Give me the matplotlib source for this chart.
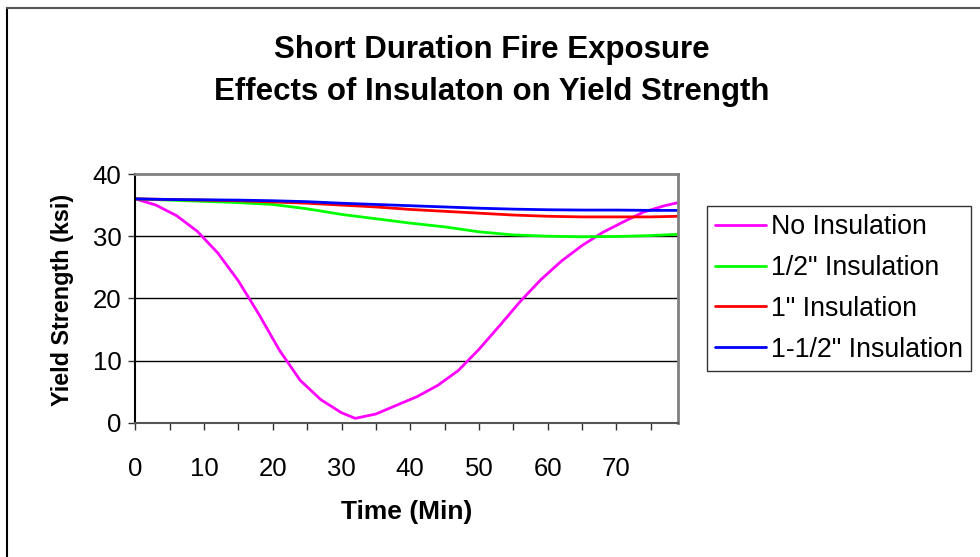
import matplotlib.pyplot as plt
from matplotlib.lines import Line2D

plt.rcParams["font.family"] = ["Liberation Sans", "DejaVu Sans"]

# minutes of exposure and yield strength (ksi) for each insulation case
t_none = [0, 3, 6, 9, 12, 15, 18, 21, 24, 27, 30, 32, 35, 38, 41, 44, 47,
          50, 53, 56, 59, 62, 65, 68, 71, 74, 77, 79]
ys_none = [36.0, 35.0, 33.3, 30.8, 27.3, 22.8, 17.4, 11.6, 6.8, 3.7, 1.6, 0.7,
           1.4, 2.8, 4.2, 6.0, 8.4, 11.8, 15.6, 19.5, 23.0, 26.0, 28.5, 30.6,
           32.3, 33.9, 34.9, 35.4]

t_ins = [0, 5, 10, 15, 20, 25, 30, 35, 40, 45, 50, 55, 60, 65, 70, 75, 79]
ys_half = [36.0, 35.8, 35.6, 35.4, 35.1, 34.4, 33.5, 32.8, 32.1, 31.5, 30.7,
           30.2, 30.0, 29.9, 29.95, 30.1, 30.3]
ys_one = [36.0, 35.9, 35.8, 35.7, 35.5, 35.3, 35.0, 34.7, 34.3, 34.0, 33.7,
          33.4, 33.2, 33.1, 33.1, 33.1, 33.2]
ys_onehalf = [36.0, 35.9, 35.85, 35.8, 35.7, 35.55, 35.3, 35.1, 34.9, 34.7,
              34.5, 34.35, 34.25, 34.2, 34.2, 34.15, 34.15]

labels = ["No Insulation", '1/2" Insulation', '1" Insulation',
          '1-1/2" Insulation']
colors = ["#ff00ff", "#00ff00", "#ff0000", "#0000ff"]

x_ticks = list(range(0, 80, 5))
x_ticklabels = [str(v) if v % 10 == 0 else "" for v in x_ticks]
y_ticks = [0, 10, 20, 30, 40]

W, H = 980, 557
fig = plt.figure(figsize=(W / 100, H / 100), dpi=100)
ax = fig.add_axes([135.3 / W, 1 - 422.7 / H, 543 / W, 248.7 / H])

series = [(t_none, ys_none), (t_ins, ys_half), (t_ins, ys_one),
          (t_ins, ys_onehalf)]
for (t, ys), lab, c in zip(series, labels, colors):
    ax.plot(t, ys, color=c, lw=2.0, label=lab, solid_capstyle="round",
            solid_joinstyle="round")

ax.set_xlim(0, 79)
ax.set_ylim(0, 40)
ax.set_xticks(x_ticks)
ax.set_xticklabels(x_ticklabels)
ax.set_yticks(y_ticks)
ax.tick_params(axis="both", direction="out", length=5, width=1,
               color="#333333", labelsize=18.5)
ax.tick_params(axis="x", pad=20)
ax.tick_params(axis="y", pad=5)

for y in y_ticks[1:-1]:
    ax.axhline(y, color="black", lw=1, zorder=0)

ax.spines["left"].set_color("black")
ax.spines["left"].set_linewidth(1.5)
ax.spines["bottom"].set_color("#555555")
ax.spines["bottom"].set_linewidth(1.5)
for s in ("top", "right"):
    ax.spines[s].set_color("#808080")
    ax.spines[s].set_linewidth(2)

fig.text(492 / W, 1 - 50 / H, "Short Duration Fire Exposure",
         ha="center", va="center", fontsize=22.5, fontweight="bold")
fig.text(492 / W, 1 - 92 / H, "Effects of Insulaton on Yield Strength",
         ha="center", va="center", fontsize=22.5, fontweight="bold")
fig.text(407 / W, 1 - 512 / H, "Time (Min)", ha="center", va="center",
         fontsize=19, fontweight="bold")
fig.text(63 / W, 1 - 300 / H, "Yield Strength (ksi)", ha="center",
         va="center", rotation=90, fontsize=16.8, fontweight="bold")

leg = ax.legend(loc="center left", bbox_to_anchor=(707 / W, 1 - 288.5 / H),
                bbox_transform=fig.transFigure, fontsize=19.3, frameon=True,
                fancybox=False, edgecolor="black", handlelength=1.9,
                handletextpad=0.2, labelspacing=0.55, borderpad=0.3,
                borderaxespad=0)
leg.get_frame().set_linewidth(1)
for h in leg.legend_handles:
    h.set_linewidth(2)

# outer chart border
fig.add_artist(Line2D([7 / W, 7 / W], [0, 1 - 8 / H], color="black", lw=1.5,
                      transform=fig.transFigure))
fig.add_artist(Line2D([7 / W, 1], [1 - 8 / H, 1 - 8 / H], color="#555555",
                      lw=1.5, transform=fig.transFigure))

fig.savefig("out.png", dpi=100)
